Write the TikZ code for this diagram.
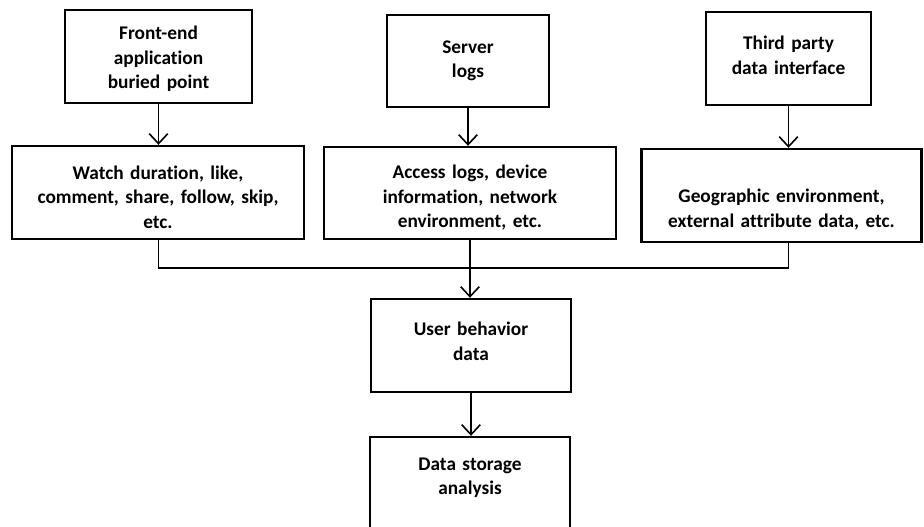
\documentclass[tikz,border=0pt]{standalone}
\usepackage{fontspec}
\setmainfont{Carlito}[Ligatures=NoCommon, WordSpace=0.8]
\usetikzlibrary{arrows.meta,positioning}
\tikzset{
  box/.style={draw, line width=1.8pt, align=center, inner sep=2pt,
    font=\bfseries\fontsize{14.5}{18.4}\selectfont},
  sz/.style 2 args={minimum width=#1*0.75pt, minimum height=#2*0.75pt, text width=#1*0.75pt-8pt},
  flow/.style={-{Straight Barb[length=7.5pt,width=14pt]}, line width=1.2pt},
  bus/.style={line width=1.2pt},
}

\begin{document}
\begin{tikzpicture}[x=0.75pt,y=-0.75pt]
\useasboundingbox (0,0) rectangle (924,527);
% --- sources ---
\node[box, sz={187}{93}, text height=14pt] (front) at (158.5,56.5) {Front-end\\application\\buried point};
\node[box, sz={162}{92}] (server) at (468,61) {Server\\logs};
\node[box, sz={165}{93}, text depth=23pt] (third) at (788.5,58.5) {Third party\\data interface};
% --- collected data ---
\node[box, sz={292}{93}, text height=17pt] (watch) at (158,192.5) {Watch duration, like,\\comment, share, follow, skip,\\etc.};
\node[box, sz={292}{92}, text height=17pt] (access) at (470,193) {Access logs, device\\information, network\\environment, etc.};
\node[box, sz={280}{93}, text height=31.5pt] (geo) at (781.5,195.5) {Geographic environment,\\external attribute data, etc.};
% --- merged ---
\node[box, sz={200}{93}, text depth=25pt] (user) at (471,345.5) {User behavior\\data};
\node[box, sz={200}{93}, text depth=29pt] (store) at (470,483.5) {Data storage\\analysis};
\coordinate (join) at (470,268);
% --- connectors ---
\draw[flow] (front) -- (front |- watch.north);
\draw[flow] (server) -- (server |- access.north);
\draw[flow] (third) -- (third |- geo.north);
\draw[bus] (front |- watch.south) |- (join) -| (third |- geo.south);
\draw[bus] (access) -- (join);
\draw[flow] (join) -- (join |- user.north);
\draw[flow] (user) -- (user |- store.north);
\end{tikzpicture}
\end{document}
